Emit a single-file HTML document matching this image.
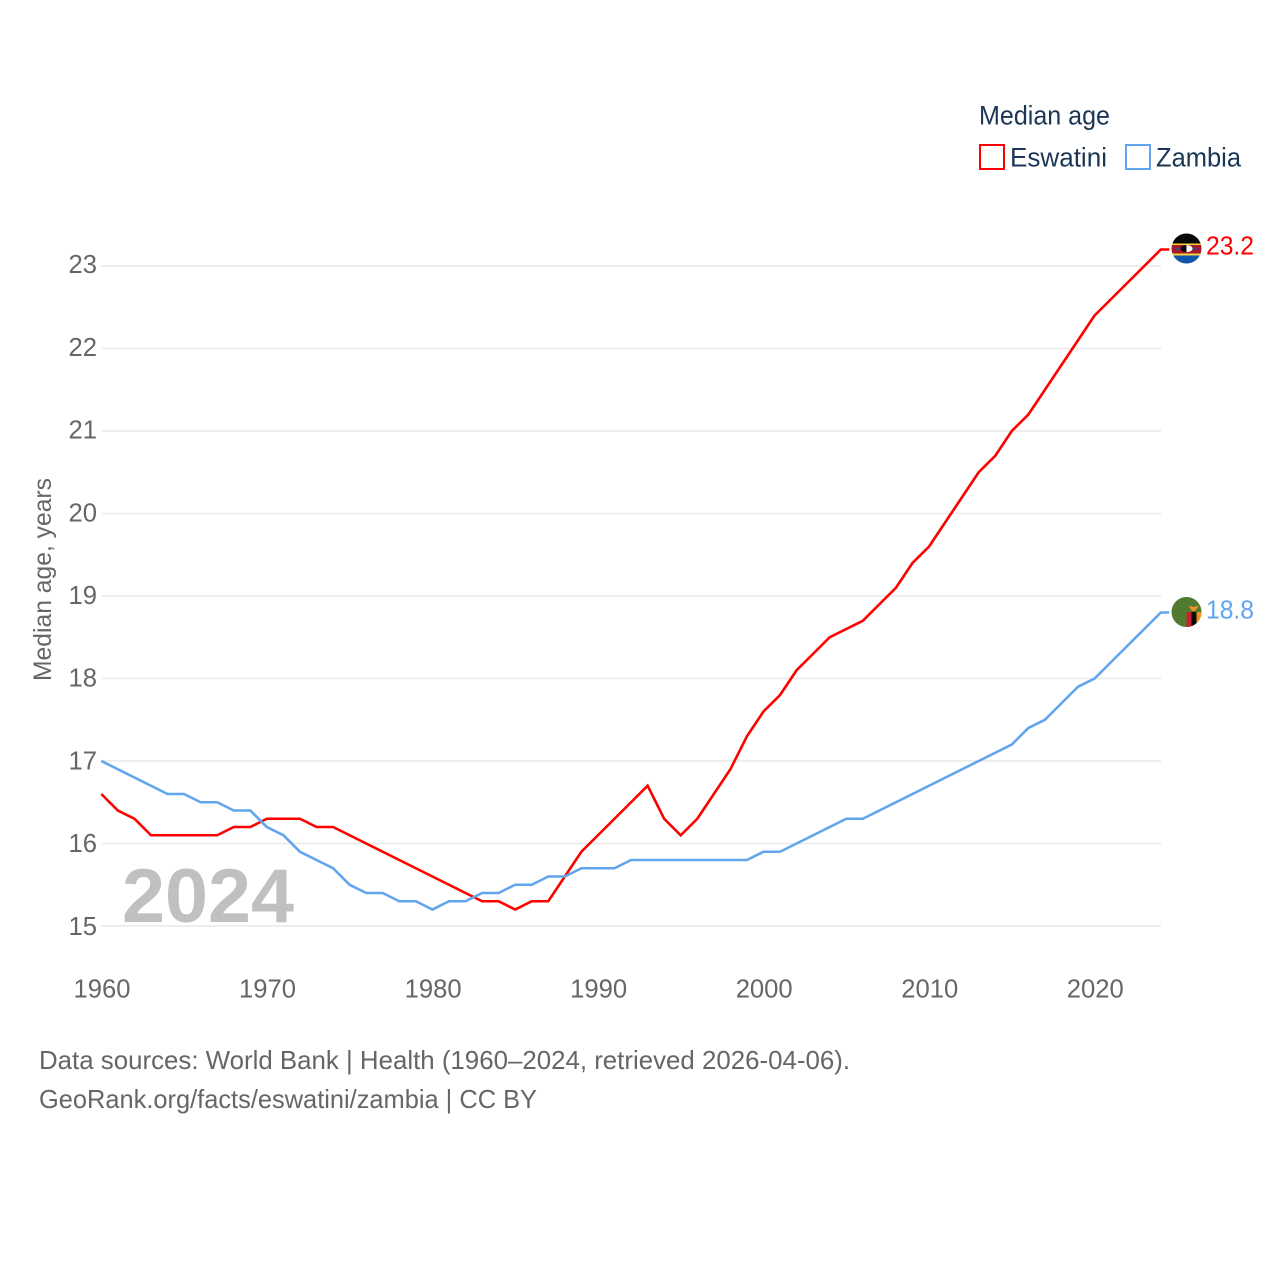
<!DOCTYPE html>
<html lang="en">
<head>
<meta charset="utf-8">
<title>Median age: Eswatini and Zambia</title>
<style>
html,body{margin:0;padding:0;background:#fff;width:1280px;height:1280px;overflow:hidden}
svg{display:block;font-family:"Liberation Sans",sans-serif}
</style>
</head>
<body>
<svg id="chart" xmlns="http://www.w3.org/2000/svg" width="1280" height="1280" viewBox="0 0 1280 1280">
  <defs>
    <clipPath id="clip-sz"><circle cx="1186.5" cy="248.5" r="15"/></clipPath>
    <clipPath id="clip-zm"><circle cx="1186.5" cy="612" r="15"/></clipPath>
  </defs>
  <g id="grid"></g>
  <g id="yticks"></g>
  <g id="xticks"></g>
  <text transform="translate(51,579.5) rotate(-90)" text-anchor="middle" font-size="25" fill="#666" textLength="203" lengthAdjust="spacingAndGlyphs">Median age, years</text>
  <text x="122" y="922" font-size="76" font-weight="bold" fill="#c0c0c0" textLength="172" lengthAdjust="spacingAndGlyphs">2024</text>
  <g id="series"></g>

  <g clip-path="url(#clip-sz)">
    <rect x="1171" y="233" width="31" height="10.5" fill="#0a0a0a"/>
    <rect x="1171" y="243.5" width="31" height="1.5" fill="#f5d33a"/>
    <rect x="1171" y="245" width="31" height="8.5" fill="#a8182c"/>
    <rect x="1171" y="253.5" width="31" height="2" fill="#f5d33a"/>
    <rect x="1171" y="255.5" width="31" height="9" fill="#0f56ad"/>
    <rect x="1176" y="247.8" width="21" height="1.6" fill="#2a4f9a"/>
    <ellipse cx="1186.5" cy="248.6" rx="6" ry="3.6" fill="#0a0a0a"/>
    <path d="M1186.5 245 A6 3.6 0 0 1 1186.5 252.2 Z" fill="#fff"/>
  </g>
  <g clip-path="url(#clip-zm)">
    <rect x="1171" y="597" width="31" height="30" fill="#4f7a2f"/>
    <rect x="1186.5" y="612" width="5" height="15" fill="#c8232c"/>
    <rect x="1191.5" y="612" width="5" height="15" fill="#0a0a0a"/>
    <rect x="1196.5" y="612" width="5.5" height="15" fill="#ef9023"/>
    <path d="M1189 605.5 L1193.5 607 L1199 605.5 L1196.5 609 L1195 611 L1192 611 L1190.5 609 Z" fill="#ef9023"/>
  </g>
  <text id="label-sz" x="1206" y="254.5" font-size="26" fill="#ff0000" textLength="48" lengthAdjust="spacingAndGlyphs"></text>
  <text id="label-zm" x="1206" y="618.5" font-size="26" fill="#60a5ee" textLength="48" lengthAdjust="spacingAndGlyphs"></text>

  <g>
    <text x="979" y="124.5" font-size="27" fill="#1b3555" textLength="131" lengthAdjust="spacingAndGlyphs">Median age</text>
    <g>
      <rect x="980" y="145" width="24" height="24" fill="none" stroke="#ff0000" stroke-width="2"/>
      <text x="1010" y="166.5" font-size="27" fill="#1b3555" textLength="97" lengthAdjust="spacingAndGlyphs">Eswatini</text>
    </g>
    <g>
      <rect x="1126" y="145" width="24" height="24" fill="none" stroke="#60a5ee" stroke-width="2"/>
      <text x="1156" y="166.5" font-size="27" fill="#1b3555" textLength="85" lengthAdjust="spacingAndGlyphs">Zambia</text>
    </g>
  </g>

  <text x="39" y="1069" font-size="26" fill="#666" textLength="811" lengthAdjust="spacingAndGlyphs">Data sources: World Bank | Health (1960–2024, retrieved 2026-04-06).</text>
  <text x="39" y="1108" font-size="26" fill="#666" textLength="498" lengthAdjust="spacingAndGlyphs">GeoRank.org/facts/eswatini/zambia | CC BY</text>
</svg>
<script>
const startYear = 1960;
const xTickYears = [1960, 1970, 1980, 1990, 2000, 2010, 2020];
const yTickValues = [15, 16, 17, 18, 19, 20, 21, 22, 23];
const eswatiniValues = [
  16.6, 16.4, 16.3, 16.1, 16.1, 16.1, 16.1, 16.1, 16.2, 16.2,
  16.3, 16.3, 16.3, 16.2, 16.2, 16.1, 16.0, 15.9, 15.8, 15.7,
  15.6, 15.5, 15.4, 15.3, 15.3, 15.2, 15.3, 15.3, 15.6, 15.9,
  16.1, 16.3, 16.5, 16.7, 16.3, 16.1, 16.3, 16.6, 16.9, 17.3,
  17.6, 17.8, 18.1, 18.3, 18.5, 18.6, 18.7, 18.9, 19.1, 19.4,
  19.6, 19.9, 20.2, 20.5, 20.7, 21.0, 21.2, 21.5, 21.8, 22.1,
  22.4, 22.6, 22.8, 23.0, 23.2
];
const zambiaValues = [
  17.0, 16.9, 16.8, 16.7, 16.6, 16.6, 16.5, 16.5, 16.4, 16.4,
  16.2, 16.1, 15.9, 15.8, 15.7, 15.5, 15.4, 15.4, 15.3, 15.3,
  15.2, 15.3, 15.3, 15.4, 15.4, 15.5, 15.5, 15.6, 15.6, 15.7,
  15.7, 15.7, 15.8, 15.8, 15.8, 15.8, 15.8, 15.8, 15.8, 15.8,
  15.9, 15.9, 16.0, 16.1, 16.2, 16.3, 16.3, 16.4, 16.5, 16.6,
  16.7, 16.8, 16.9, 17.0, 17.1, 17.2, 17.4, 17.5, 17.7, 17.9,
  18.0, 18.2, 18.4, 18.6, 18.8
];

const NS = 'http://www.w3.org/2000/svg';
function xScale(year) { return 101.3 + (year - 1960) * 16.555; }
function yScale(value) { return 926 - (value - 15) * 82.5; }
function yLabelBaseline(value) { return 934.8 - (value - 15) * 82.7; }
function linePath(values) {
  let d = '';
  values.forEach(function (v, i) {
    d += (i ? 'L' : 'M') + xScale(startYear + i).toFixed(2) + ' ' + yScale(v).toFixed(2);
  });
  const last = values[values.length - 1];
  d += 'L' + (xScale(startYear + values.length - 1) + 8.5).toFixed(2) + ' ' + yScale(last).toFixed(2);
  return d;
}

const gridGroup = document.getElementById('grid');
const yGroup = document.getElementById('yticks');
yTickValues.forEach(function (v) {
  const line = document.createElementNS(NS, 'line');
  
  
  line.setAttribute('x1', 101.3);
  line.setAttribute('x2', 1161);
  line.setAttribute('y1', yScale(v));
  line.setAttribute('y2', yScale(v));
  line.setAttribute('stroke', '#e9e9e9');
  line.setAttribute('stroke-width', '1.5');
  gridGroup.appendChild(line);

  const label = document.createElementNS(NS, 'text');
  
  
  label.setAttribute('x', 97);
  label.setAttribute('y', yLabelBaseline(v));
  label.setAttribute('text-anchor', 'end');
  label.setAttribute('font-size', '26');
  label.setAttribute('fill', '#666');
  label.setAttribute('textLength', '28.5');
  label.setAttribute('lengthAdjust', 'spacingAndGlyphs');
  label.textContent = String(v);
  yGroup.appendChild(label);
});

const xGroup = document.getElementById('xticks');
xTickYears.forEach(function (year) {
  const label = document.createElementNS(NS, 'text');
  
  
  label.setAttribute('x', xScale(year) + 0.7);
  label.setAttribute('y', 997.5);
  label.setAttribute('text-anchor', 'middle');
  label.setAttribute('font-size', '26');
  label.setAttribute('fill', '#666');
  label.setAttribute('textLength', '57');
  label.setAttribute('lengthAdjust', 'spacingAndGlyphs');
  label.textContent = String(year);
  xGroup.appendChild(label);
});

const seriesGroup = document.getElementById('series');

const eswatiniLine = document.createElementNS(NS, 'path');


eswatiniLine.setAttribute('d', linePath(eswatiniValues));
eswatiniLine.setAttribute('fill', 'none');
eswatiniLine.setAttribute('stroke', '#ff0000');
eswatiniLine.setAttribute('stroke-width', '2.6');
seriesGroup.appendChild(eswatiniLine);

const zambiaLine = document.createElementNS(NS, 'path');


zambiaLine.setAttribute('d', linePath(zambiaValues));
zambiaLine.setAttribute('fill', 'none');
zambiaLine.setAttribute('stroke', '#60a5ee');
zambiaLine.setAttribute('stroke-width', '2.6');
seriesGroup.appendChild(zambiaLine);

document.getElementById('label-sz').textContent = eswatiniValues[eswatiniValues.length - 1].toFixed(1);
document.getElementById('label-zm').textContent = zambiaValues[zambiaValues.length - 1].toFixed(1);
</script>
</body>
</html>
